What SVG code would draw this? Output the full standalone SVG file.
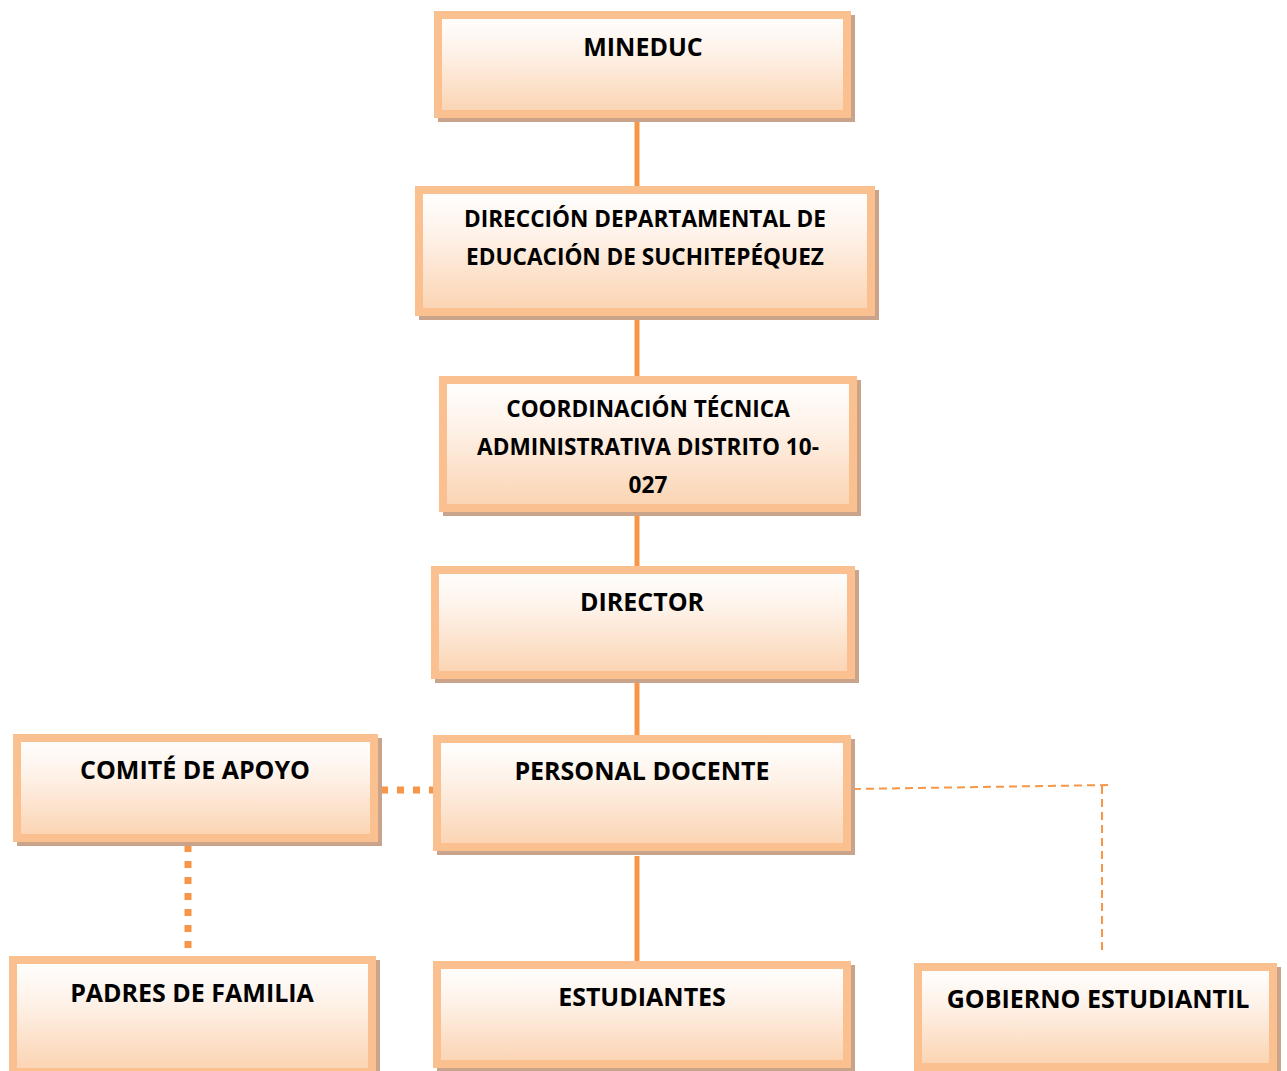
<svg xmlns="http://www.w3.org/2000/svg" width="1287" height="1071" viewBox="0 0 1287 1071">
<defs>
<linearGradient id="g" x1="0" y1="0" x2="0" y2="1">
<stop offset="0" stop-color="#FFFFFF"/>
<stop offset="0.35" stop-color="#FEF3EA"/>
<stop offset="1" stop-color="#FBD3B1"/>
</linearGradient>
</defs>
<style>
.sh{fill:#C9A48A;}
.bx{fill:url(#g);stroke:#FAC08F;stroke-width:8;}
.t{font-family:"Open Sans","Liberation Sans",sans-serif;font-weight:bold;font-size:25px;fill:#000;text-anchor:middle;}
.m{font-size:22.6px;}
.solid{stroke:#F79646;stroke-width:5;fill:none;}
.dot{stroke:#F79646;stroke-width:7;stroke-dasharray:7 9;fill:none;}
.dash{stroke:#F79646;stroke-width:2;stroke-dasharray:8 5;fill:none;}
</style>
<rect width="1287" height="1071" fill="#FFFFFF"/>
<g id="connectors">
<line class="solid" x1="637" y1="118" x2="637" y2="186"/>
<line class="solid" x1="637" y1="316" x2="637" y2="376"/>
<line class="solid" x1="637" y1="512" x2="637" y2="566"/>
<line class="solid" x1="637" y1="679" x2="637" y2="735"/>
<line class="solid" x1="637" y1="856" x2="637" y2="963"/>
<line class="dot" x1="381" y1="790" x2="433" y2="790"/>
<line class="dot" x1="188" y1="845" x2="188" y2="956"/>
<polyline class="dash" points="853,789 1109,785"/>
<line class="dash" x1="1102" y1="786" x2="1102" y2="954"/>
</g>
<g id="mineduc">
<rect class="sh" x="438" y="15" width="417" height="107"/>
<rect class="bx" x="438" y="15" width="409" height="99"/>
<text class="t" x="643" y="56">MINEDUC</text>
</g>
<g id="direccion">
<rect class="sh" x="419" y="190" width="460" height="130"/>
<rect class="bx" x="419" y="190" width="452" height="122"/>
<text class="t m" x="645" y="227">DIRECCIÓN DEPARTAMENTAL DE</text>
<text class="t m" x="645" y="265">EDUCACIÓN DE SUCHITEPÉQUEZ</text>
</g>
<g id="coordinacion">
<rect class="sh" x="443" y="380" width="418" height="136"/>
<rect class="bx" x="443" y="380" width="410" height="128"/>
<text class="t m" x="648" y="417">COORDINACIÓN TÉCNICA</text>
<text class="t m" x="648" y="455">ADMINISTRATIVA DISTRITO 10-</text>
<text class="t m" x="648" y="493">027</text>
</g>
<g id="director">
<rect class="sh" x="435" y="570" width="424" height="113"/>
<rect class="bx" x="435" y="570" width="416" height="105"/>
<text class="t" x="642" y="611">DIRECTOR</text>
</g>
<g id="personal">
<rect class="sh" x="437" y="739" width="418" height="116"/>
<rect class="bx" x="437" y="739" width="410" height="108"/>
<text class="t" x="642" y="780">PERSONAL DOCENTE</text>
</g>
<g id="comite">
<rect class="sh" x="17" y="738" width="365" height="108"/>
<rect class="bx" x="17" y="738" width="357" height="100"/>
<text class="t" x="195" y="779">COMITÉ DE APOYO</text>
</g>
<g id="padres">
<rect class="sh" x="13" y="960" width="367" height="120"/>
<rect class="bx" x="13" y="960" width="359" height="112"/>
<text class="t" x="192" y="1002">PADRES DE FAMILIA</text>
</g>
<g id="estudiantes">
<rect class="sh" x="437" y="965" width="418" height="107"/>
<rect class="bx" x="437" y="965" width="410" height="99"/>
<text class="t" x="642" y="1006">ESTUDIANTES</text>
</g>
<g id="gobierno">
<rect class="sh" x="918" y="967" width="363" height="108"/>
<rect class="bx" x="918" y="967" width="355" height="100"/>
<text class="t" x="1098" y="1008">GOBIERNO ESTUDIANTIL</text>
</g>
</svg>
